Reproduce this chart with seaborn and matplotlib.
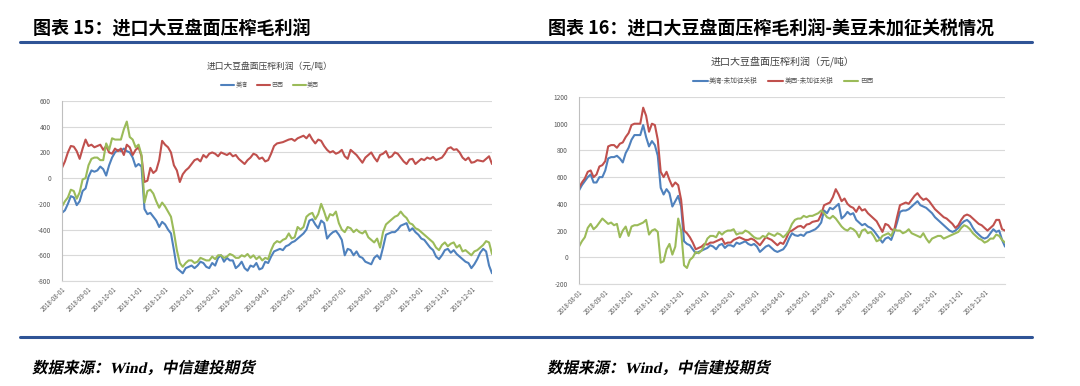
import numpy as np
import pandas as pd
import matplotlib
matplotlib.use("Agg")
import matplotlib.pyplot as plt
import matplotlib.dates as mdates
from matplotlib.lines import Line2D
from matplotlib.textpath import TextPath
from matplotlib.patches import PathPatch
from matplotlib.font_manager import FontProperties
from matplotlib.transforms import Affine2D
import seaborn as sns

# readings every 3.5 days, 2018-08-01 .. 2019-12-25
dates = pd.date_range("2018-08-01", periods=147, freq="84h")

# 图表15
left_labels = ["美湾", "巴西", "美西"]
left_gulf = [-270, -250, -200, -140, -150, -210, -180, -100, -80, 10,
             60, 50, 60, 90, 70, 20, 100, 160, 200, 220,
             210, 230, 210, 200, 160, 90, 110, 90, -240, -280,
             -270, -300, -330, -380, -340, -360, -400, -430, -560, -700,
             -720, -740, -700, -690, -680, -700, -680, -650, -660, -690,
             -700, -660, -680, -620, -600, -650, -620, -640, -640, -700,
             -680, -650, -700, -720, -680, -690, -660, -710, -700, -650,
             -660, -610, -570, -560, -550, -560, -530, -520, -500, -490,
             -470, -450, -430, -400, -330, -320, -360, -390, -330, -350,
             -470, -440, -420, -410, -440, -480, -600, -550, -560, -600,
             -570, -610, -620, -650, -660, -670, -620, -600, -630, -540,
             -440, -430, -420, -420, -400, -370, -360, -350, -410, -390,
             -420, -440, -470, -480, -510, -540, -560, -610, -630, -600,
             -560, -550, -580, -560, -590, -610, -630, -650, -660, -700,
             -670, -630, -580, -550, -570, -680,
             -740]
left_brazil = [80, 130, 200, 250, 245, 210, 150, 230, 300, 250,
               260, 240, 250, 260, 220, 250, 200, 190, 230, 210,
               230, 180, 260, 240, 180, 220, 240, 170, -30, -20,
               80, 40, 60, 140, 290, 260, 240, 200, 100, 60,
               -30, 30, 60, 80, 110, 140, 150, 130, 180, 160,
               190, 200, 190, 170, 200, 190, 180, 195, 170, 180,
               150, 130, 110, 140, 160, 190, 180, 150, 160, 130,
               140, 190, 250, 270, 275, 280, 290, 300, 305, 290,
               310, 320, 330, 310, 340, 300, 270, 300, 290, 250,
               220, 200, 210, 190, 200, 220, 170, 150, 220, 200,
               180, 150, 120, 160, 180, 200, 160, 130, 180, 190,
               210, 160, 170, 200, 190, 160, 130, 110, 145, 150,
               110, 130, 150, 140, 160, 150, 165, 140, 150, 160,
               190, 230, 240, 220, 225, 200, 160, 140, 160, 120,
               125, 140, 135, 130, 150, 170,
               110]
left_west = [-220, -180, -150, -90, -100, -160, -110, -10, 0, 100,
             150, 160, 160, 140, 140, 270, 220, 310, 300, 300,
             300, 380, 440, 320, 300, 240, 260, 180, -190, -100,
             -90, -120, -180, -230, -190, -220, -260, -300, -420, -560,
             -660, -690, -660, -640, -640, -660, -650, -620, -630, -640,
             -640, -610, -630, -600, -600, -620, -610, -590, -600, -620,
             -620, -600, -610, -590, -620, -600, -630, -610, -640, -620,
             -630, -560, -510, -490, -500, -480, -470, -430, -470, -460,
             -380, -400, -380, -300, -280, -270, -320, -280, -200, -260,
             -330, -280, -290, -260, -350, -400, -420, -380, -390, -420,
             -400, -420, -430, -410, -460, -480, -500, -470, -540, -420,
             -360, -340, -320, -300, -290, -260, -290, -310, -350, -360,
             -390, -400, -420, -440, -460, -480, -500, -540, -560, -520,
             -500, -530, -510, -500, -540, -520, -570, -560, -580, -600,
             -570, -560, -540, -520, -490, -500,
             -590]

# 图表16
right_labels = ["美湾-未加征关税", "美西-未加征关税", "巴西"]
right_gulf = [500, 540, 570, 600, 620, 560, 560, 600, 600, 650,
              740, 750, 750, 760, 740, 710, 780, 820, 880, 915,
              915, 915, 990, 900, 830, 870, 840, 760, 520, 470,
              510, 480, 380, 420, 460, 380, 120, 100, 90, 60,
              30, 40, 50, 60, 70, 90, 80, 60, 90, 100,
              70, 90, 90, 80, 110, 100, 110, 120, 100, 90,
              100, 80, 40, 60, 80, 90, 70, 50, 40, 50,
              60, 90, 140, 180, 165, 160, 170, 160, 185, 190,
              200, 210, 230, 260, 350, 330, 370, 360, 380, 400,
              290, 310, 340, 320, 330, 280, 260, 240, 250, 230,
              220, 200, 170, 140, 110, 140, 150, 130, 190, 260,
              340, 350, 350, 360, 380, 400, 420, 390, 380, 370,
              350, 330, 300, 280, 260, 240, 220, 200, 190, 200,
              220, 250, 270, 280, 260, 220, 190, 170, 150, 140,
              150, 180, 210, 190, 200, 130,
              80]
right_west = [520, 560, 590, 640, 650, 600, 620, 680, 690, 720,
              830, 840, 840, 820, 850, 860, 900, 930, 990, 1000,
              1000, 1000, 1120, 1060, 940, 1000, 990, 880, 640, 600,
              640, 580, 530, 560, 540, 430, 200, 180, 150, 110,
              60, 70, 80, 100, 95, 110, 110, 120, 130, 140,
              100, 110, 110, 130, 140, 150, 140, 130, 130, 140,
              130, 110, 90, 120, 150, 140, 130, 110, 90, 110,
              100, 140, 190, 200, 215, 230, 235, 220, 245, 250,
              265, 270, 275, 320, 390, 400, 410, 450, 510, 470,
              420, 440, 400, 380, 370, 340, 380, 350, 360, 330,
              310, 290, 270, 230, 190, 250, 240, 210, 200, 300,
              390, 400, 410, 400, 430, 460, 480, 450, 430, 440,
              420, 390, 360, 340, 320, 300, 290, 270, 250, 220,
              240, 280, 310, 320, 310, 290, 270, 250, 240, 220,
              200, 220, 240, 280, 280, 210,
              200]
right_brazil = [80, 120, 150, 220, 250, 210, 230, 260, 290, 270,
                250, 260, 240, 250, 150, 200, 230, 160, 230, 240,
                240, 250, 260, 280, 170, 200, 210, 190, -40, -30,
                60, 100, 20, 80, 290, 200, -60, -80, -20, 0,
                40, 30, 50, 90, 140, 160, 160, 150, 190, 170,
                190, 200, 200, 210, 170, 180, 180, 200, 190, 170,
                150, 140, 140, 160, 150, 180, 170, 160, 180, 170,
                150, 170, 200, 250, 280, 290, 290, 310, 300, 310,
                310, 320, 330, 350, 330, 300, 290, 310, 290, 260,
                230, 210, 200, 220, 210, 190, 150, 200, 210, 180,
                190, 160, 120, 130, 160, 170, 180, 160, 210, 200,
                200, 180, 190, 210, 180, 170, 160, 150, 180, 140,
                110, 140, 150, 160, 160, 140, 150, 160, 170, 180,
                190, 220, 240, 230, 210, 180, 160, 140, 130, 110,
                120, 140, 140, 170, 160, 130,
                110]

month_ticks = pd.date_range("2018-08-01", "2019-12-01", freq="MS")

sns.set_style("white")
plt.rcParams["font.family"] = ["Noto Sans CJK SC", "DejaVu Sans"]
plt.rcParams["axes.unicode_minus"] = False

BLUE, RED, GREEN = "#4F81BD", "#C0504D", "#9BBB59"
NAVY = "#2F5496"
W, H = 1080, 386

fig = plt.figure(figsize=(W / 100, H / 100), dpi=100)


def rect(x0, y0, x1, y1):
    return [x0 / W, 1 - y1 / H, (x1 - x0) / W, (y1 - y0) / H]


def panel(box, series, labels, colors, ylim, step, title, title_y, title_fs, leg_y, cx, leg_fs):
    ax = fig.add_axes(rect(*box))
    df = pd.DataFrame({
        "date": np.tile(dates, len(series)),
        "value": np.concatenate(series),
        "name": np.repeat(labels, len(dates)),
    })
    sns.lineplot(data=df, x="date", y="value", hue="name", hue_order=labels,
                 palette=colors, linewidth=1.5, ax=ax, legend=False)
    ax.set_xlim(dates[0], dates[-1])
    ax.set_ylim(*ylim)
    ax.set_yticks(np.arange(ylim[0], ylim[1] + 1, step))
    ax.yaxis.grid(True, color="#D9D9D9", linewidth=0.8)
    ax.xaxis.grid(False)
    ax.set_xticks(month_ticks)
    ax.xaxis.set_major_formatter(mdates.DateFormatter("%Y-%m-%d"))
    plt.setp(ax.get_xticklabels(), rotation=45, ha="right", va="top",
             rotation_mode="anchor", fontsize=4.5, color="#595959")
    ax.tick_params(axis="y", labelsize=4.7, labelcolor="#595959", length=0, pad=8)
    ax.tick_params(axis="x", length=0, pad=3)
    ax.set_xlabel("")
    ax.set_ylabel("")
    for s in ["top", "right"]:
        ax.spines[s].set_visible(False)
    ax.spines["left"].set_color("#BFBFBF")
    ax.spines["bottom"].set_color("#D9D9D9")
    ax.spines["left"].set_linewidth(0.8)
    ax.spines["bottom"].set_linewidth(0.8)

    fig.text(cx / W, 1 - title_y / H, title, ha="center", va="center",
             fontsize=title_fs, color="#404040")
    handles = [Line2D([], [], color=c, linewidth=1.5) for c in colors]
    fig.legend(handles, labels, loc="center", bbox_to_anchor=(cx / W, 1 - leg_y / H),
               ncol=3, frameon=False, fontsize=leg_fs, handlelength=2.2,
               handletextpad=0.2, columnspacing=1.6, labelcolor="#595959")
    return ax


panel((62, 101, 492, 281), [left_gulf, left_brazil, left_west], left_labels,
      [BLUE, RED, GREEN], (-800, 600), 200, "进口大豆盘面压榨利润（元/吨）",
      67, 6.3, 85, 270, 4.3)
panel((579, 97, 1005, 284), [right_gulf, right_west, right_brazil], right_labels,
      [BLUE, RED, GREEN], (-200, 1200), 200, "进口大豆盘面压榨利润（元/吨）",
      62, 7.2, 81, 783, 4.8)

# section headers
fig.text(33 / W, 1 - 29 / H, "图表 15：进口大豆盘面压榨毛利润", fontsize=13,
         fontweight="bold", va="center", ha="left", color="#000000")
fig.text(548 / W, 1 - 29 / H, "图表 16：进口大豆盘面压榨毛利润-美豆未加征关税情况",
         fontsize=13, fontweight="bold", va="center", ha="left", color="#000000")
fig.add_artist(Line2D([20 / W, 1032 / W], [1 - 41.5 / H] * 2, color=NAVY, linewidth=2.2))
fig.add_artist(Line2D([20 / W, 1032 / W], [1 - 337 / H] * 2, color=NAVY, linewidth=2.2))

# sources, slanted like the original italic
src = "数据来源：Wind，中信建投期货"
src_font = FontProperties(family=["Liberation Serif", "Noto Sans CJK SC"], weight="bold")
for x in (32, 547):
    path = TextPath((0, 0), src, size=15.5, prop=src_font)
    skew = Affine2D().skew_deg(12, 0).translate(x, H - 373)
    fig.add_artist(PathPatch(path, transform=skew, facecolor="black",
                             edgecolor="none", linewidth=0))

fig.savefig("out.png", dpi=100)
